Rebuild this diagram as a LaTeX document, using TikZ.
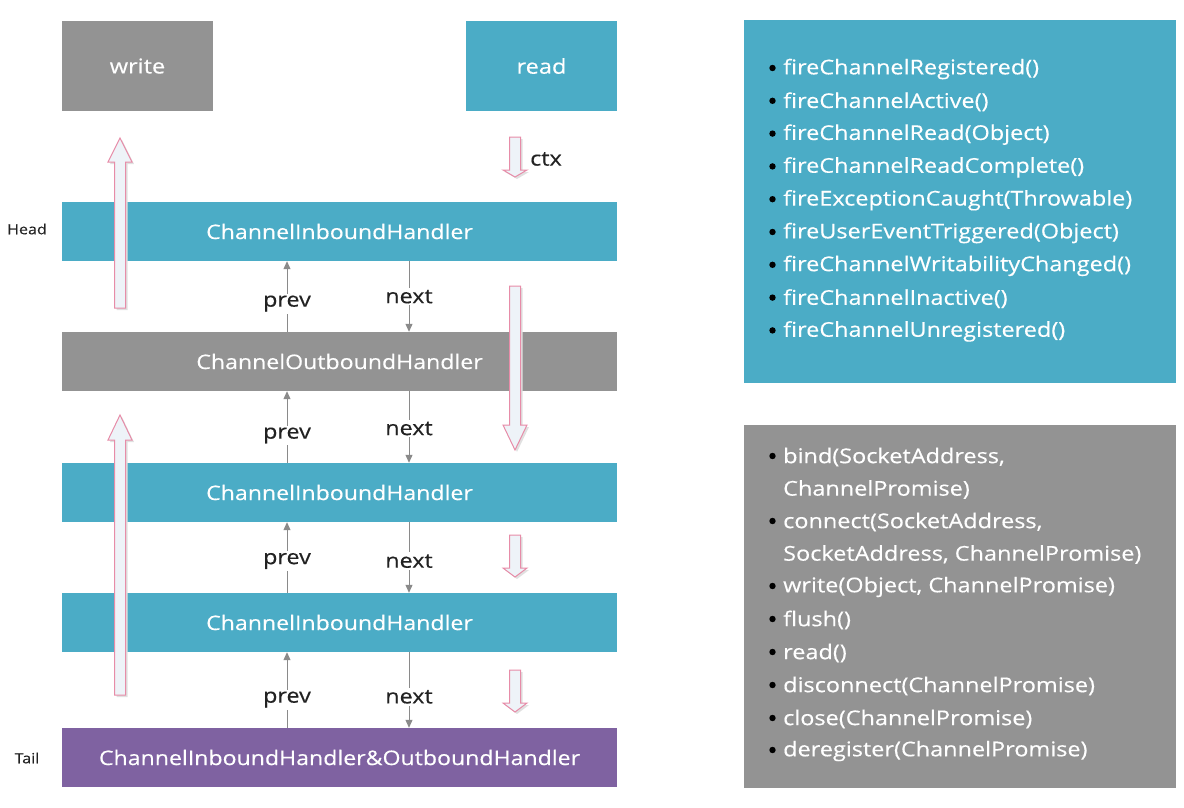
\documentclass[tikz,border=0pt]{standalone}
\usepackage{fontspec}
\setmainfont{Open Sans}[FakeStretch=1.15, FakeBold=0.35]
\usetikzlibrary{arrows.meta}
\definecolor{cteal}{HTML}{4BACC6}
\definecolor{cgray}{HTML}{939393}
\definecolor{cpurple}{HTML}{7F62A1}
\definecolor{cpink}{HTML}{E78CA8}
\definecolor{cpale}{HTML}{EEF3F8}
\definecolor{cline}{HTML}{8A8A8A}
\definecolor{ctext}{HTML}{222222}
\newcommand\blockarr[4]{%
  \fill[black!12] ({#1-5.5+2},{#2+2}) -- ({#1-5.5+2},{#3+2}) -- ({#1-12+2},{#3+2}) -- ({#1+2},{#4+2}) -- ({#1+12+2},{#3+2}) -- ({#1+5.5+2},{#3+2}) -- ({#1+5.5+2},{#2+2}) -- cycle;
  \draw[blk] ({#1-5.5},#2) -- ({#1-5.5},#3) -- ({#1-12},#3) -- (#1,#4) -- ({#1+12},#3) -- ({#1+5.5},#3) -- ({#1+5.5},#2) -- cycle;}
\begin{document}
\begin{tikzpicture}[x=1pt,y=-1pt,
  box/.style={draw=none, text=white, font=\fontsize{20.5}{25}\selectfont, minimum width=151, minimum height=90, inner sep=0},
  bar/.style={draw=none, text=white, font=\fontsize{20.1}{25}\selectfont, minimum width=555, minimum height=59, inner sep=0},
  side/.style={draw=none, text=ctext, font=\fontsize{14}{17}\selectfont},
  lab/.style={fill=white, text=ctext, font=\fontsize{20.3}{24}\selectfont, inner sep=2},
  plab/.style={lab, yshift=-3.5pt},
  nlab/.style={lab, yshift=-1.5pt},
  small/.style={draw=cline, line width=1, -{Triangle[length=8,width=7]}},
  blk/.style={draw=cpink, fill=cpale, line width=1},
  item/.style={anchor=west, text=white, font=\fontsize{20.4}{24}\selectfont, inner sep=0},
  panel/.style={draw=none, minimum width=432, minimum height=363, inner sep=0}]
\useasboundingbox (0,0) rectangle (1184,808);
% top boxes
\node[box, fill=cgray] (write) at (137.5,66) {write};
\node[box, fill=cteal] (read) at (541.5,66) {read};
% panels
\node[panel, fill=cteal] (inpanel) at (960,201.5) {};
\node[panel, fill=cgray] (outpanel) at (960,606) {};
% bars
\node[bar, fill=cteal] (h1) at (339.5,231.5) {ChannelInboundHandler};
\node[bar, fill=cgray] (h2) at (339.5,361.5) {ChannelOutboundHandler};
\node[bar, fill=cteal] (h3) at (339.5,492.5) {ChannelInboundHandler};
\node[bar, fill=cteal] (h4) at (339.5,622.5) {ChannelInboundHandler};
\node[bar, fill=cpurple] (h5) at (339.5,757.5) {ChannelInboundHandler\&OutboundHandler};
\node[side] (head) at (27,229) {Head};
\node[side] (tail) at (27,758) {Tail};
% prev / next
\coordinate (px) at (287,0);
\coordinate (nx) at (409,0);
\draw[small] (h2.north -| px) -- node[plab, pos=0.45]{prev} (h1.south -| px);
\draw[small] (h1.south -| nx) -- node[nlab, pos=0.48]{next} (h2.north -| nx);
\draw[small] (h3.north -| px) -- node[plab, pos=0.43]{prev} (h2.south -| px);
\draw[small] (h2.south -| nx) -- node[nlab, pos=0.5]{next} (h3.north -| nx);
\draw[small] (h4.north -| px) -- node[plab, pos=0.5]{prev} (h3.south -| px);
\draw[small] (h3.south -| nx) -- node[nlab, pos=0.53]{next} (h4.north -| nx);
\draw[small] (h5.north -| px) -- node[plab, pos=0.42]{prev} (h4.south -| px);
\draw[small] (h4.south -| nx) -- node[nlab, pos=0.57]{next} (h5.north -| nx);
% block arrows
\blockarr{120}{308}{162}{138}
\blockarr{120}{695}{440}{415}
\blockarr{515}{137}{170}{177}
\blockarr{515}{286}{425}{450}
\blockarr{515}{535}{568}{577}
\blockarr{515}{670}{703}{712}
\node[lab, fill=none, anchor=west] (ctx) at (528,159) {ctx};
% inbound list
\foreach \t [count=\i] in {fireChannelRegistered(), fireChannelActive(), fireChannelRead(Object), fireChannelReadComplete(), fireExceptionCaught(Throwable), fireUserEventTriggered(Object), fireChannelWritabilityChanged(), fireChannelInactive(), fireChannelUnregistered()}{
  \node[item] (in\i) at (783,{69+(\i-1)*32.8}) {\t};
  \fill[black] (772.5,{68+(\i-1)*32.8}) circle (3.2);
}
% outbound list
\node[item] (o1) at (783,457) {bind(SocketAddress,};
\node[item] (o1b) at (783,489.5) {ChannelPromise)};
\node[item] (o2) at (783,522) {connect(SocketAddress,};
\node[item] (o2b) at (783,554.5) {SocketAddress, ChannelPromise)};
\node[item] (o3) at (783,587) {write(Object, ChannelPromise)};
\node[item] (o4) at (783,620) {flush()};
\node[item] (o5) at (783,653) {read()};
\node[item] (o6) at (783,686) {disconnect(ChannelPromise)};
\node[item] (o7) at (783,719) {close(ChannelPromise)};
\node[item] (o8) at (783,751) {deregister(ChannelPromise)};
\foreach \y in {456,521,586,619,652,685,718,750}{\fill[black] (772.5,\y) circle (3.2);}
\end{tikzpicture}
\end{document}
